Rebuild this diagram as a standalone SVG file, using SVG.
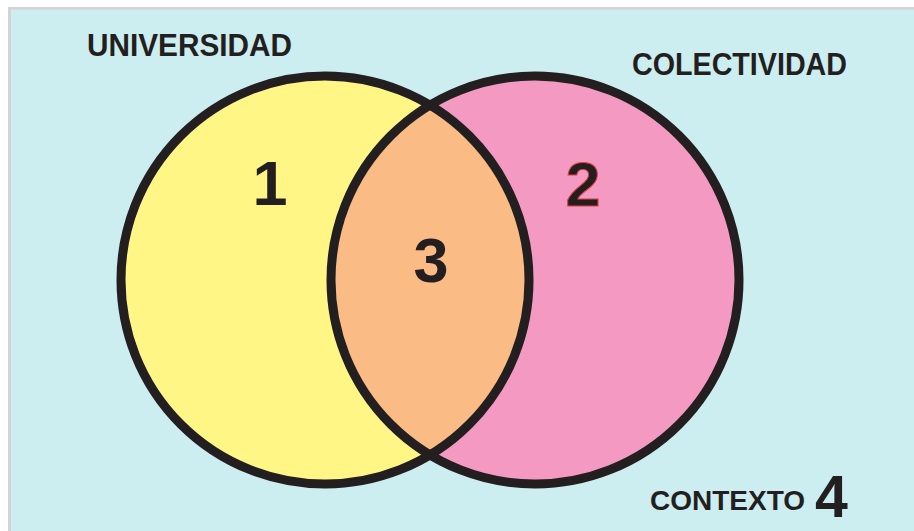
<svg xmlns="http://www.w3.org/2000/svg" width="914" height="531" viewBox="0 0 914 531">
<style>
.lbl{font-family:"Liberation Sans",Arial,sans-serif;font-weight:bold;font-size:31px;fill:#231F20}
.num{font-family:"Liberation Sans",Arial,sans-serif;font-weight:bold;font-size:63px;fill:#231F20;text-anchor:middle}
.ring{fill:none;stroke:#231F20;stroke-width:9}
</style>
<defs>
<clipPath id="clipL"><circle cx="325" cy="280" r="204"/></clipPath>
</defs>
<rect x="0" y="0" width="914" height="531" fill="#ffffff"/>
<rect x="8" y="7" width="906" height="524" fill="#d3d3d3"/>
<rect x="11" y="9.5" width="903" height="521.5" fill="#CCEEF0"/>
<g id="universidad">
<circle cx="325" cy="280" r="204" fill="#FFF685"/>
</g>
<g id="colectividad">
<circle cx="535" cy="280" r="204" fill="#F49AC2"/>
</g>
<g id="interseccion">
<circle cx="535" cy="280" r="204" fill="#FABB84" clip-path="url(#clipL)"/>
</g>
<g id="connectors">
<circle class="ring" cx="325" cy="280" r="204"/>
<circle class="ring" cx="535" cy="280" r="204"/>
</g>
<g id="labels">
<text class="lbl" x="87" y="56" textLength="205" lengthAdjust="spacingAndGlyphs">UNIVERSIDAD</text>
<text class="lbl" x="632" y="75" textLength="215" lengthAdjust="spacingAndGlyphs">COLECTIVIDAD</text>
<text class="lbl" x="650" y="510" style="font-size:28px" textLength="155" lengthAdjust="spacingAndGlyphs">CONTEXTO</text>
<text class="lbl" x="815" y="517" style="font-size:59px">4</text>
</g>
<g id="numbers">
<text class="num" x="270" y="205">1</text>
<text class="num" x="583" y="206" style="stroke:#E0403F;stroke-width:1">2</text>
<text class="num" x="431" y="282">3</text>
</g>
</svg>
